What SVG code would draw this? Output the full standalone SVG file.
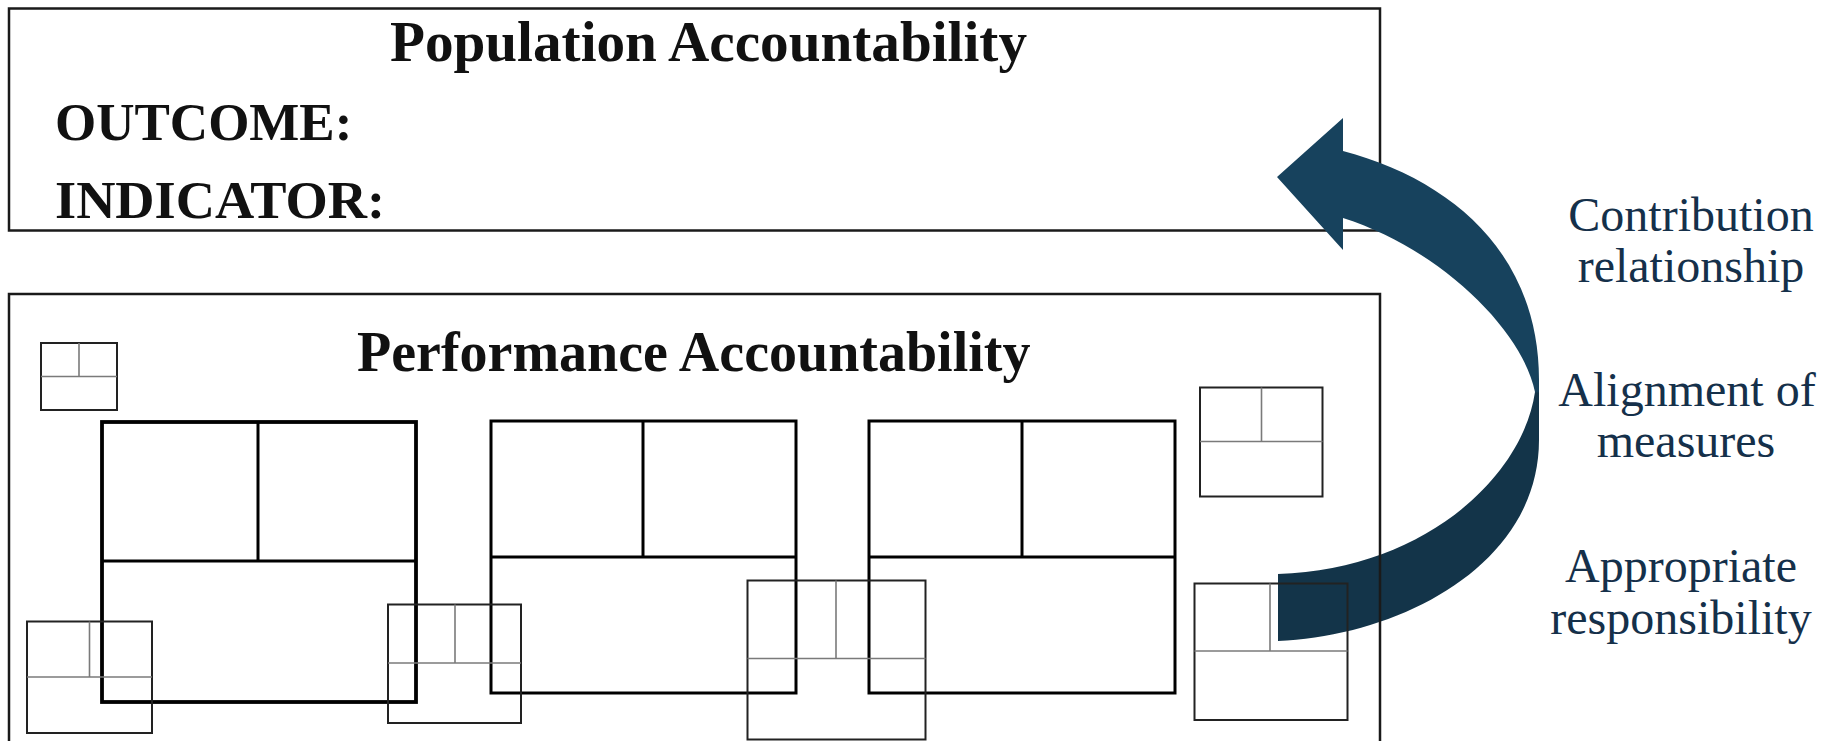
<svg xmlns="http://www.w3.org/2000/svg" width="1840" height="741" viewBox="0 0 1840 741">
<style>
.frame{fill:none;stroke:#1a1a1a;stroke-width:2.5}
.big{fill:none;stroke:#000;stroke-width:3}
.big1{fill:none;stroke:#000;stroke-width:3.8}
.sm{fill:none;stroke:#222;stroke-width:2}
.dv{fill:none;stroke:#7a7a7a;stroke-width:1.6}
.h{font-family:"Liberation Serif",serif;font-weight:bold;fill:#111}
.side{font-family:"Liberation Serif",serif;font-size:48px;fill:#15304a;text-anchor:middle}
</style>
<defs>
<linearGradient id="ag" gradientUnits="userSpaceOnUse" x1="0" y1="117" x2="0" y2="641">
<stop offset="0" stop-color="#17425d"/>
<stop offset="0.523" stop-color="#17425d"/>
<stop offset="0.527" stop-color="#133449"/>
<stop offset="1" stop-color="#133449"/>
</linearGradient>
</defs>
<rect width="1840" height="741" fill="#fff"/>

<g id="population">
<rect class="frame" x="9" y="8.5" width="1371" height="222"/>
<text class="h" x="390" y="60.5" font-size="56" textLength="637" lengthAdjust="spacingAndGlyphs">Population Accountability</text>
<text class="h" x="55" y="139.5" font-size="53">OUTCOME:</text>
<text class="h" x="55" y="218" font-size="53" textLength="330" lengthAdjust="spacingAndGlyphs">INDICATOR:</text>
</g>

<g id="connectors">
<path id="contribution-arrow" fill="url(#ag)" d="M1277,177 L1343,118 L1343,151 C1453,180 1539,255 1539,380 L1539,440 C1539,565 1400,636 1278,641 L1278,574 C1420,570 1522,480 1535,392 C1523,332 1443,250 1343,218 L1343,250 Z"/>
</g>

<g id="performance">
<path class="frame" d="M9,760 V294 H1380 V760"/>
<text class="h" x="357" y="371" font-size="56">Performance Accountability</text>
</g>

<g id="program-1">
<rect class="big1" x="102" y="422" width="314" height="280"/>
<line class="big" x1="102" y1="561" x2="416" y2="561"/>
<line class="big" x1="258" y1="422" x2="258" y2="561"/>
</g>
<g id="program-2">
<rect class="big" x="491" y="421" width="305" height="272"/>
<line class="big" x1="491" y1="557" x2="796" y2="557"/>
<line class="big" x1="643" y1="421" x2="643" y2="557"/>
</g>
<g id="program-3">
<rect class="big" x="869" y="421" width="306" height="272"/>
<line class="big" x1="869" y1="557" x2="1175" y2="557"/>
<line class="big" x1="1022" y1="421" x2="1022" y2="557"/>
</g>

<g id="small-1">
<rect class="sm" x="41" y="343" width="76" height="67"/>
<line class="dv" x1="41" y1="376.5" x2="117" y2="376.5"/>
<line class="dv" x1="79" y1="343" x2="79" y2="376.5"/>
</g>
<g id="small-2">
<rect class="sm" x="27" y="621.5" width="125" height="111.5"/>
<line class="dv" x1="27" y1="677" x2="152" y2="677"/>
<line class="dv" x1="89.5" y1="621.5" x2="89.5" y2="677"/>
</g>
<g id="small-3">
<rect class="sm" x="388" y="604.5" width="133" height="118.5"/>
<line class="dv" x1="388" y1="663" x2="521" y2="663"/>
<line class="dv" x1="455" y1="604.5" x2="455" y2="663"/>
</g>
<g id="small-4">
<rect class="sm" x="747.5" y="580.5" width="178" height="159"/>
<line class="dv" x1="747.5" y1="658.5" x2="925.5" y2="658.5"/>
<line class="dv" x1="836" y1="580.5" x2="836" y2="658.5"/>
</g>
<g id="small-5">
<rect class="sm" x="1200" y="387.5" width="122.5" height="109"/>
<line class="dv" x1="1200" y1="441.5" x2="1322.5" y2="441.5"/>
<line class="dv" x1="1261.5" y1="387.5" x2="1261.5" y2="441.5"/>
</g>
<g id="small-6">
<rect class="sm" x="1194.5" y="583.5" width="153" height="136.5"/>
<line class="dv" x1="1194.5" y1="651" x2="1347.5" y2="651"/>
<line class="dv" x1="1270" y1="583.5" x2="1270" y2="651"/>
</g>

<g id="labels">
<text class="side" x="1691" y="231">Contribution</text>
<text class="side" x="1691" y="282">relationship</text>
<text class="side" x="1687" y="406">Alignment of</text>
<text class="side" x="1686" y="457">measures</text>
<text class="side" x="1681" y="582">Appropriate</text>
<text class="side" x="1681" y="634">responsibility</text>
</g>
</svg>
